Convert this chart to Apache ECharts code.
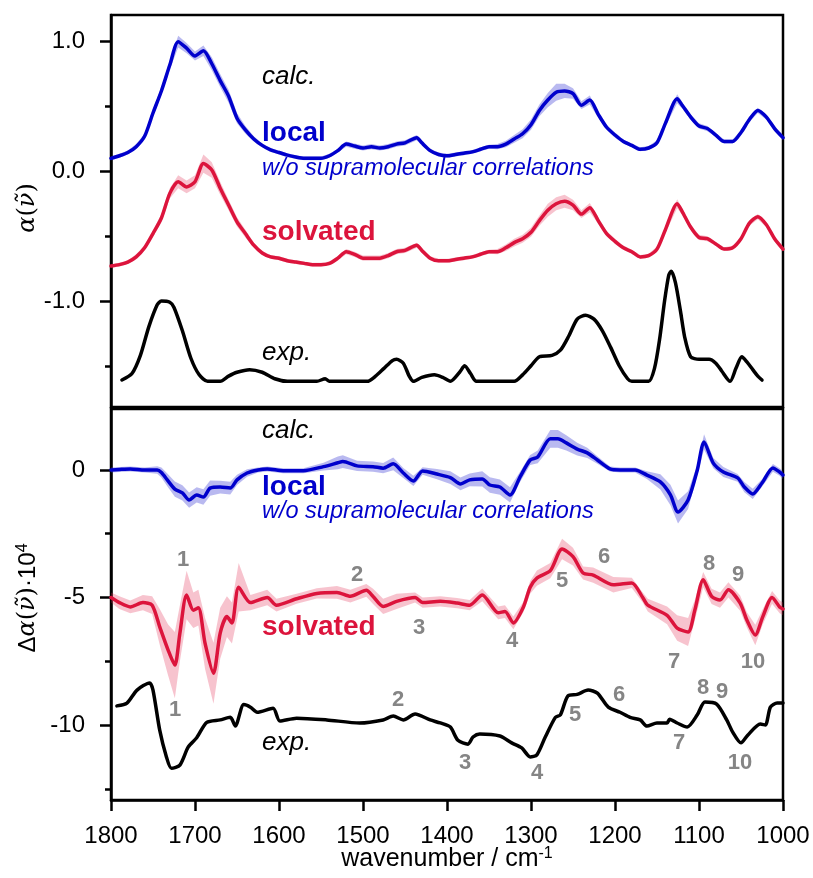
<!DOCTYPE html>
<html>
<head>
<meta charset="utf-8">
<title>IR spectra</title>
<script src="https://cdn.jsdelivr.net/npm/echarts@6/dist/echarts.min.js"></script>
<style>
	html, body { margin: 0; padding: 0; background: #fff; }
	#chart { width: 813px; height: 878px; }
</style>
</head>
<body>
<div id="chart"></div>
<script>
// ---- data (wavenumber in cm-1) ----

// top panel, calc. spectra
const wnTop = [1800, 1790, 1780, 1770, 1760, 1750, 1740, 1730, 1720, 1710, 1700, 1690, 1680, 1670, 1660, 1650, 1640, 1630, 1620, 1610,
	1600, 1590, 1580, 1570, 1560, 1550, 1540, 1530, 1520, 1510, 1500, 1490, 1480, 1470, 1460, 1450, 1436, 1430, 1420, 1410,
	1400, 1390, 1380, 1370, 1360, 1350, 1340, 1330, 1320, 1310, 1300, 1290, 1280, 1270, 1260, 1250, 1240, 1230, 1220, 1210,
	1200, 1190, 1180, 1170, 1160, 1150, 1140, 1126, 1120, 1110, 1100, 1090, 1080, 1070, 1060, 1050, 1040, 1030, 1020, 1010, 1000];
const localTop = [0.10, 0.12, 0.145, 0.19, 0.27, 0.45, 0.62, 0.82, 1.00, 0.95, 0.89, 0.93, 0.83, 0.70, 0.58, 0.41, 0.32, 0.25, 0.20, 0.165,
	0.145, 0.125, 0.11, 0.10, 0.10, 0.10, 0.12, 0.16, 0.21, 0.195, 0.18, 0.19, 0.18, 0.19, 0.21, 0.22, 0.26, 0.22, 0.16, 0.13,
	0.12, 0.13, 0.14, 0.15, 0.17, 0.19, 0.19, 0.21, 0.25, 0.29, 0.36, 0.47, 0.55, 0.61, 0.62, 0.60, 0.51, 0.55, 0.44, 0.34,
	0.28, 0.23, 0.20, 0.17, 0.18, 0.22, 0.37, 0.56, 0.51, 0.42, 0.35, 0.33, 0.28, 0.23, 0.23, 0.30, 0.40, 0.47, 0.42, 0.33, 0.26];
const localTopErr = [0.015, 0.015, 0.015, 0.02, 0.02, 0.03, 0.03, 0.035, 0.045, 0.04, 0.035, 0.04, 0.05, 0.05, 0.05, 0.04, 0.03, 0.02, 0.015, 0.015,
	0.015, 0.015, 0.015, 0.015, 0.015, 0.015, 0.015, 0.015, 0.02, 0.02, 0.02, 0.02, 0.02, 0.02, 0.02, 0.02, 0.02, 0.02, 0.015, 0.015,
	0.015, 0.015, 0.015, 0.015, 0.015, 0.015, 0.02, 0.025, 0.03, 0.035, 0.04, 0.045, 0.055, 0.065, 0.055, 0.04, 0.03, 0.035, 0.025, 0.02,
	0.02, 0.015, 0.015, 0.015, 0.015, 0.02, 0.025, 0.035, 0.025, 0.02, 0.02, 0.02, 0.015, 0.015, 0.015, 0.015, 0.02, 0.02, 0.02, 0.02, 0.02];
const solvTop = [-0.73, -0.72, -0.70, -0.66, -0.59, -0.48, -0.36, -0.17, -0.08, -0.12, -0.08, 0.06, 0.01, -0.13, -0.26, -0.39, -0.48, -0.57, -0.63, -0.66,
	-0.67, -0.69, -0.70, -0.71, -0.72, -0.72, -0.71, -0.67, -0.62, -0.64, -0.67, -0.67, -0.67, -0.65, -0.62, -0.61, -0.57, -0.61, -0.67, -0.69,
	-0.69, -0.68, -0.67, -0.66, -0.64, -0.62, -0.62, -0.59, -0.55, -0.52, -0.47, -0.38, -0.30, -0.25, -0.23, -0.26, -0.33, -0.28, -0.38, -0.48,
	-0.54, -0.59, -0.62, -0.66, -0.65, -0.60, -0.45, -0.25, -0.31, -0.43, -0.51, -0.52, -0.56, -0.60, -0.59, -0.52, -0.40, -0.35, -0.41, -0.52, -0.60];
const solvTopErr = [0.015, 0.015, 0.015, 0.02, 0.02, 0.025, 0.03, 0.04, 0.05, 0.05, 0.05, 0.07, 0.06, 0.05, 0.04, 0.035, 0.03, 0.02, 0.015, 0.015,
	0.015, 0.015, 0.015, 0.015, 0.015, 0.015, 0.015, 0.015, 0.02, 0.02, 0.02, 0.02, 0.02, 0.02, 0.02, 0.02, 0.02, 0.02, 0.015, 0.015,
	0.015, 0.015, 0.015, 0.015, 0.015, 0.015, 0.02, 0.025, 0.03, 0.03, 0.035, 0.04, 0.05, 0.05, 0.05, 0.04, 0.03, 0.035, 0.025, 0.02,
	0.02, 0.015, 0.015, 0.015, 0.015, 0.02, 0.025, 0.035, 0.025, 0.02, 0.02, 0.02, 0.015, 0.015, 0.015, 0.015, 0.02, 0.02, 0.02, 0.02, 0.02];

// top panel, exp. spectrum
const wnExpTop = [1787, 1775, 1765, 1755, 1745, 1740, 1730, 1725, 1715, 1705, 1695, 1685, 1670, 1660, 1650, 1635, 1620, 1605, 1590, 1570,
	1555, 1545, 1540, 1520, 1495, 1485, 1475, 1465, 1460, 1452, 1445, 1440, 1430, 1415, 1405, 1396, 1385, 1379, 1372, 1365,
	1340, 1320, 1310, 1300, 1290, 1275, 1265, 1255, 1245, 1235, 1225, 1215, 1205, 1195, 1185, 1180, 1160, 1153, 1147, 1141,
	1136, 1133, 1128, 1122, 1117, 1110, 1100, 1088, 1080, 1073, 1063, 1056, 1049, 1043, 1036, 1030, 1025];
const expTop = [-1.61, -1.56, -1.42, -1.20, -1.03, -1.00, -1.01, -1.05, -1.23, -1.44, -1.57, -1.62, -1.62, -1.58, -1.55, -1.53, -1.55, -1.60, -1.62, -1.62,
	-1.62, -1.60, -1.62, -1.62, -1.62, -1.58, -1.52, -1.46, -1.45, -1.48, -1.58, -1.62, -1.59, -1.57, -1.59, -1.62, -1.55, -1.50, -1.56, -1.62,
	-1.62, -1.62, -1.57, -1.50, -1.43, -1.42, -1.38, -1.27, -1.14, -1.11, -1.14, -1.23, -1.36, -1.50, -1.60, -1.62, -1.62, -1.52, -1.30, -1.00,
	-0.80, -0.77, -0.86, -1.08, -1.28, -1.43, -1.45, -1.45, -1.48, -1.54, -1.62, -1.52, -1.43, -1.47, -1.53, -1.58, -1.61];

// bottom panel, difference spectra
const wnLocalDiff = [1800, 1790, 1777, 1760, 1745, 1740, 1733, 1724, 1715, 1707, 1698, 1690, 1682, 1670, 1658, 1650, 1638, 1625, 1614, 1595,
	1571, 1547, 1530, 1524, 1507, 1488, 1476, 1464, 1452, 1440, 1429, 1412, 1396, 1384, 1373, 1358, 1349, 1337, 1325, 1313,
	1301, 1292, 1277, 1268, 1258, 1245, 1233, 1221, 1206, 1194, 1176, 1162, 1146, 1134, 1125, 1113, 1102, 1094, 1083, 1071,
	1054, 1046, 1036, 1025, 1012, 1004, 1000];
const localDiff = [0.0, 0.02, 0.04, 0.0, 0.0, -0.1, -0.39, -0.75, -0.9, -1.18, -0.98, -1.06, -0.71, -0.67, -0.71, -0.39, -0.12, 0.0, 0.04, -0.03,
	-0.03, 0.13, 0.28, 0.33, 0.16, 0.13, 0.07, 0.24, -0.12, -0.43, -0.04, -0.16, -0.3, -0.55, -0.39, -0.35, -0.59, -0.67, -0.98, -0.27,
	0.39, 0.51, 1.22, 1.22, 1.06, 0.82, 0.67, 0.39, 0.04, 0.0, 0.0, -0.2, -0.47, -0.98, -1.65, -1.18, 0.0, 1.1, 0.27, -0.08,
	-0.31, -0.67, -0.94, -0.51, 0.08, -0.08, -0.2];
const localDiffErr = [0.1, 0.1, 0.1, 0.1, 0.15, 0.2, 0.25, 0.3, 0.3, 0.3, 0.3, 0.3, 0.3, 0.25, 0.25, 0.2, 0.15, 0.1, 0.1, 0.1,
	0.1, 0.15, 0.25, 0.25, 0.2, 0.2, 0.2, 0.25, 0.2, 0.2, 0.15, 0.2, 0.25, 0.25, 0.25, 0.3, 0.3, 0.3, 0.3, 0.2,
	0.2, 0.25, 0.35, 0.35, 0.3, 0.25, 0.2, 0.15, 0.1, 0.1, 0.1, 0.15, 0.3, 0.4, 0.45, 0.35, 0.2, 0.3, 0.2, 0.2,
	0.15, 0.2, 0.2, 0.15, 0.15, 0.15, 0.15];

const wnSolvDiff = [1800, 1790, 1777, 1762, 1751, 1742, 1732, 1724, 1718, 1710, 1702, 1696, 1688, 1678, 1670, 1662, 1656, 1648, 1634, 1614,
	1603, 1579, 1555, 1531, 1515, 1496, 1488, 1476, 1460, 1438, 1429, 1408, 1388, 1373, 1358, 1339, 1331, 1321, 1309, 1301,
	1293, 1277, 1263, 1250, 1238, 1226, 1202, 1180, 1167, 1161, 1138, 1126, 1113, 1105, 1095, 1085, 1075, 1065, 1051, 1043,
	1033, 1024, 1013, 1004, 1000];
const solvDiff = [-5.0, -5.2, -5.37, -5.2, -5.3, -6.15, -7.06, -7.65, -6.4, -4.9, -5.5, -5.4, -6.8, -7.97, -6.4, -5.75, -6.0, -4.6, -5.2, -5.0,
	-5.3, -5.05, -4.84, -4.8, -4.95, -4.72, -4.96, -5.35, -5.15, -5.0, -5.2, -5.15, -5.22, -5.3, -4.9, -5.6, -5.55, -6.0, -5.37, -4.6,
	-4.24, -3.95, -3.1, -3.4, -4.04, -4.12, -4.5, -4.43, -5.0, -5.3, -5.7, -6.2, -6.35, -5.5, -4.3, -4.96, -5.1, -4.7, -5.22, -5.88,
	-6.47, -5.75, -5.0, -5.37, -5.45];
const solvDiffErr = [0.2, 0.25, 0.25, 0.3, 0.35, 0.7, 1.0, 1.3, 1.1, 0.95, 0.7, 0.7, 1.0, 1.2, 1.0, 0.8, 0.8, 0.95, 0.3, 0.3,
	0.25, 0.2, 0.2, 0.25, 0.25, 0.25, 0.3, 0.3, 0.3, 0.2, 0.2, 0.2, 0.2, 0.2, 0.25, 0.25, 0.25, 0.25, 0.2, 0.25,
	0.3, 0.3, 0.4, 0.35, 0.25, 0.3, 0.3, 0.2, 0.2, 0.25, 0.35, 0.5, 0.55, 0.4, 0.3, 0.3, 0.3, 0.3, 0.3, 0.3,
	0.4, 0.3, 0.25, 0.25, 0.25];

const wnExpDiff = [1793, 1781, 1769, 1754, 1750, 1742, 1734, 1728, 1718, 1708, 1698, 1686, 1670, 1658, 1652, 1642, 1634, 1626, 1607, 1599,
	1579, 1543, 1504, 1476, 1464, 1452, 1438, 1420, 1408, 1396, 1387, 1375, 1369, 1361, 1337, 1323, 1311, 1301, 1293, 1283,
	1271, 1265, 1256, 1245, 1232, 1221, 1208, 1194, 1182, 1170, 1162, 1150, 1138, 1135, 1126, 1114, 1102, 1093, 1079, 1067,
	1060, 1050, 1042, 1027, 1021, 1015, 1007, 1000];
const expDiff = [-9.25, -9.14, -8.63, -8.35, -8.63, -10.2, -11.25, -11.7, -11.57, -10.86, -10.5, -9.9, -9.8, -9.7, -10.04, -9.2, -9.3, -9.5, -9.34, -9.84,
	-9.73, -9.8, -9.92, -9.8, -9.65, -9.8, -9.57, -9.8, -9.92, -10.08, -10.6, -10.75, -10.47, -10.35, -10.43, -10.7, -10.9, -11.25, -11.17, -10.47,
	-9.7, -9.6, -8.86, -8.8, -8.63, -8.75, -9.3, -9.5, -9.7, -9.8, -10.04, -9.92, -9.92, -9.77, -9.92, -10.08, -9.6, -9.1, -9.18, -9.8,
	-10.27, -10.7, -10.4, -9.96, -10.0, -9.3, -9.14, -9.14];

// axis ticks
const topTicks = [-1, 0, 1];
const topMinorTicks = [-1.5, -0.5, 0.5];
const bottomTicks = [-10, -5, 0];
const bottomMinorTicks = [-12.5, -7.5, -2.5];

( function() {

	const FONT = '"Liberation Sans", Arial, "DejaVu Sans", sans-serif';
	const BLUE = '#0000cc';
	const RED = '#dc143c';
	const GREY = '#858585';
	const BLUE_BAND = 'rgba(70, 70, 215, 0.38)';
	const RED_BAND = 'rgba(225, 40, 80, 0.28)';
	const SMOOTH = 0.25;

	const pairs = (xs, ys) => xs.map((x, i) => [x, ys[i]]);

	const line = function(xs, ys, color, panel) {
		return {
			type: 'line', xAxisIndex: panel, yAxisIndex: panel * 2,
			data: pairs(xs, ys), showSymbol: false, symbol: 'none', smooth: SMOOTH,
			lineStyle: { color: color, width: 3.5, cap: 'round', join: 'round' }, silent: true
		};
	}

	// shaded spread drawn as one polygon through the axes' own scales
	const band = function(xs, ys, err, color, panel) {
		const data = xs.map((x, i) => [x, ys[i] - err[i], ys[i] + err[i]]);
		return {
			type: 'custom', xAxisIndex: panel, yAxisIndex: panel * 2, silent: true,
			encode: { x: 0, y: [1, 2] },
			data: data,
			renderItem: function(params, api) {
				if( params.dataIndex !== 0 ) return null;
				const upper = data.map(d => api.coord([d[0], d[2]]));
				const lower = data.map(d => api.coord([d[0], d[1]])).reverse();
				return {
					type: 'polygon',
					shape: { points: upper.concat(lower) },
					style: { fill: color, stroke: null }
				};
			}
		};
	}

	const tickStyle = { color: '#000', width: 2.5 };

	const yMain = function(grid, min, max, ticks, fmt) {
		return {
			type: 'value', gridIndex: grid, min: min, max: max, position: 'left',
			axisLine: { show: true, onZero: false, lineStyle: { color: '#000', width: 2.5 } },
			axisTick: { show: true, customValues: ticks, length: 11, lineStyle: tickStyle },
			axisLabel: { show: true, customValues: ticks, formatter: fmt, margin: 26, color: '#000', fontSize: 24, fontFamily: FONT },
			splitLine: { show: false }
		};
	}

	const yMinor = function(grid, min, max, ticks) {
		return {
			type: 'value', gridIndex: grid, min: min, max: max, position: 'left',
			axisLine: { show: false, onZero: false },
			axisTick: { show: true, customValues: ticks, length: 6, lineStyle: tickStyle },
			axisLabel: { show: false },
			splitLine: { show: false }
		};
	}

	const label = (text, x, y, font, fill, align) => ({
		type: 'text', x: x, y: y, silent: true, z: 10,
		style: { text: text, font: font, fill: fill, textAlign: align || 'left', textVerticalAlign: 'middle' }
	});

	const texts = function() {
		const it = 'italic 26px ' + FONT;
		const bold = 'bold 28px ' + FONT;
		const note = 'italic 23.5px ' + FONT;
		const num = 'bold 22px ' + FONT;
		const wo = 'w/o supramolecular correlations';
		const out = [
			label('calc.', 262, 77, it, '#000'),
			label('local', 262, 133, bold, BLUE),
			label(wo, 262, 168, note, BLUE),
			label('solvated', 262, 232, bold, RED),
			label('exp.', 262, 353, it, '#000'),
			label('calc.', 262, 431, it, '#000'),
			label('local', 262, 487, bold, BLUE),
			label(wo, 262, 511, note, BLUE),
			label('solvated', 262, 627, bold, RED),
			label('exp.', 262, 743, it, '#000')
		];
		// band assignment numbers: [text, x, y]
		const numbers = [
			['1', 183, 560], ['2', 357, 575], ['3', 419, 628], ['4', 512, 641], ['5', 562, 581],
			['6', 604, 557], ['7', 674, 662], ['8', 709, 564], ['9', 738, 575], ['10', 753, 662],
			['1', 175, 710], ['2', 398, 700], ['3', 465, 763], ['4', 537, 773], ['5', 575, 715],
			['6', 619, 695], ['7', 679, 743], ['8', 703, 688], ['9', 722, 692], ['10', 740, 763]
		];
		numbers.forEach(n => out.push(label(n[0], n[1], n[2], num, GREY, 'center')));

		// axis titles
		out.push({
			type: 'text', x: 28, y: 208, rotation: Math.PI / 2, silent: true,
			style: {
				text: '{m|\u03b1}{n|(}{m|\u03bd\u0303}{n|)}', textAlign: 'center', textVerticalAlign: 'middle',
				rich: {
					m: { font: 'italic 24px "DejaVu Serif", serif', fill: '#000' },
					n: { font: '24px "DejaVu Serif", serif', fill: '#000' }
				}
			}
		});
		out.push({
			type: 'text', x: 28, y: 598, rotation: Math.PI / 2, silent: true,
			style: {
				text: '{s|\u0394}{m|\u03b1}{n|(}{m|\u03bd\u0303}{n|)}{s|\u00b710}{p|4}', textAlign: 'center', textVerticalAlign: 'middle',
				rich: {
					m: { font: 'italic 24px "DejaVu Serif", serif', fill: '#000' },
					n: { font: '24px "DejaVu Serif", serif', fill: '#000' },
					s: { font: '24px ' + FONT, fill: '#000' },
					p: { font: '16px ' + FONT, fill: '#000', verticalAlign: 'top', padding: [0, 0, 10, 0] }
				}
			}
		});
		out.push({
			type: 'text', x: 447, y: 859, silent: true,
			style: {
				text: '{a|wavenumber / cm}{b|-1}', textAlign: 'center', textVerticalAlign: 'middle',
				rich: {
					a: { font: '25px ' + FONT, fill: '#000' },
					b: { font: '16px ' + FONT, fill: '#000', verticalAlign: 'top', padding: [0, 0, 10, 0] }
				}
			}
		});
		return out;
	}

	const setupChart = function() {
		const chart = echarts.init(document.getElementById('chart'), null, { renderer: 'canvas' });

		const xBase = {
			type: 'value', min: 1000, max: 1800, interval: 100, inverse: true,
			axisLine: { show: true, onZero: false, lineStyle: { color: '#000', width: 2.5 } },
			splitLine: { show: false }
		};

		const option = {
			animation: false,
			backgroundColor: '#fff',
			grid: [
				{ left: 111, top: 15, width: 672, height: 392, show: true, borderColor: '#000', borderWidth: 2.5, backgroundColor: 'transparent' },
				{ left: 111, top: 409, width: 672, height: 391, show: true, borderColor: '#000', borderWidth: 2.5, backgroundColor: 'transparent' }
			],
			xAxis: [
				Object.assign({}, xBase, { gridIndex: 0, axisTick: { show: false }, axisLabel: { show: false } }),
				Object.assign({}, xBase, {
					gridIndex: 1,
					axisTick: { show: true, length: 11, lineStyle: tickStyle },
					axisLabel: { show: true, margin: 24, color: '#000', fontSize: 24, fontFamily: FONT, formatter: v => String(v) }
				})
			],
			yAxis: [
				yMain(0, -1.818, 1.206, topTicks, v => v.toFixed(1)),
				yMinor(0, -1.818, 1.206, topMinorTicks),
				yMain(1, -12.94, 2.39, bottomTicks, v => String(v)),
				yMinor(1, -12.94, 2.39, bottomMinorTicks)
			],
			series: [
				band(wnTop, localTop, localTopErr, BLUE_BAND, 0),
				band(wnTop, solvTop, solvTopErr, RED_BAND, 0),
				band(wnLocalDiff, localDiff, localDiffErr, BLUE_BAND, 1),
				band(wnSolvDiff, solvDiff, solvDiffErr, RED_BAND, 1),
				line(wnTop, localTop, BLUE, 0),
				line(wnTop, solvTop, RED, 0),
				line(wnExpTop, expTop, '#000', 0),
				line(wnLocalDiff, localDiff, BLUE, 1),
				line(wnSolvDiff, solvDiff, RED, 1),
				line(wnExpDiff, expDiff, '#000', 1)
			],
			graphic: texts()
		};

		chart.setOption(option);
	}

	document.addEventListener('DOMContentLoaded', function() {
		setupChart();
	});

}() );
</script>
</body>
</html>
